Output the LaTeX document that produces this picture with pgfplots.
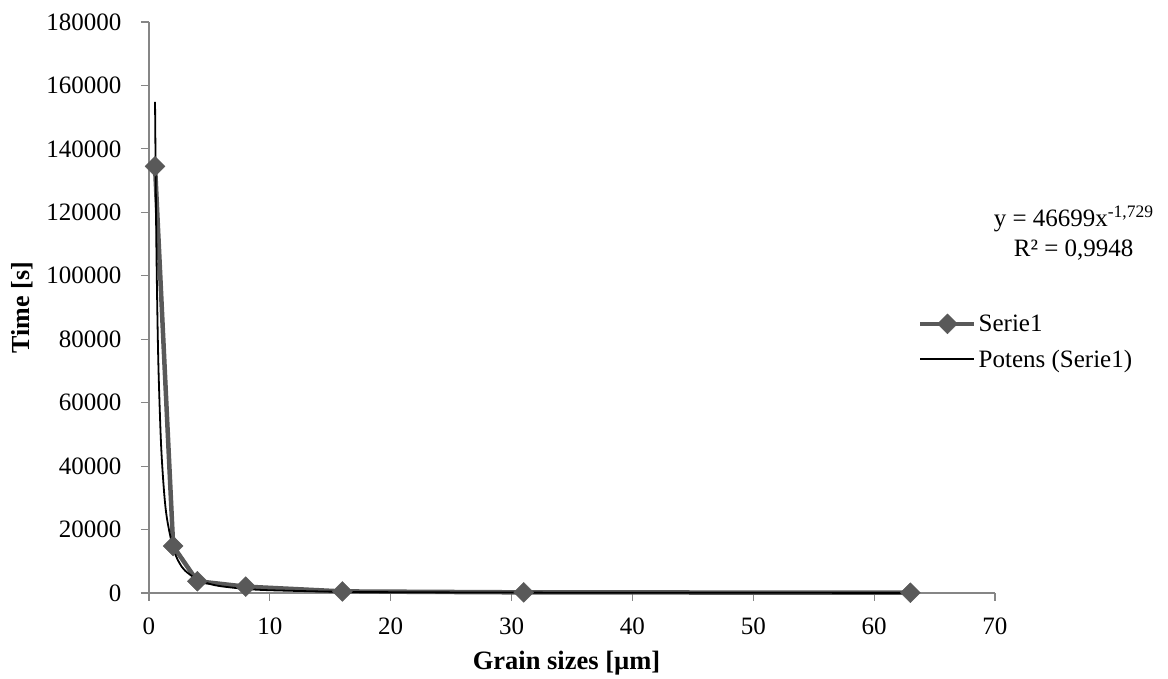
\documentclass[border=0pt]{standalone}
\usepackage{pgfplots}
\pgfplotsset{compat=1.18}
\usepackage{fontspec}
\setmainfont{Liberation Serif}
\definecolor{serie}{HTML}{595959}
\definecolor{axgray}{HTML}{868686}
\pgfplotsset{
  legA/.style={legend image code/.code={\draw[mark repeat=2,mark phase=2,##1] plot coordinates {(0pt,0pt) (27pt,0pt) (54pt,0pt)};}},
  legB/.style={legend image code/.code={\draw[##1] (0pt,0pt) -- (54pt,0pt);}},
}
\begin{document}
\begin{tikzpicture}
\begin{axis}[
  scale only axis, width=846pt, height=571pt,
  xmin=0, xmax=70, ymin=0, ymax=180000,
  xtick={0,10,...,70}, ytick={0,20000,...,180000},
  scaled ticks=false,
  /pgf/number format/fixed,
  /pgf/number format/1000 sep={},
  /pgf/number format/assume math mode=true,
  axis lines*=left,
  axis line style={axgray, line width=1.2pt},
  tick style={axgray, line width=1.2pt},
  tick align=outside, major tick length=8pt,
  every x tick/.style={axgray}, every y tick/.style={axgray},
  font=\fontsize{23.5}{28}\selectfont,
  ticklabel style={font=\fontsize{25}{30}\selectfont, black},
  xticklabel style={yshift=-13pt},
  yticklabel style={xshift=-16pt},
  xlabel={\textbf{Grain sizes [µm]}},
  ylabel={\textbf{Time [s]}},
  xlabel style={at={(axis description cs:0.4935,-0.1226)}, anchor=center, font=\fontsize{26.5}{32}\selectfont},
  ylabel style={at={(axis description cs:-0.150,0.5)}, anchor=center, font=\fontsize{26}{31}\selectfont},
  clip=false,
  legend style={draw=none, fill=none, at={(axis description cs:0.909,0.44)}, anchor=west,
    font=\fontsize{25}{30}\selectfont, row sep=13pt, inner xsep=0pt},
  legend cell align=left,
]
\addplot[serie, line width=4.5pt, mark=square*, mark size=7pt,
  mark options={rotate=45, solid, line width=0.5pt}, legA]
  coordinates {(0.5,134500) (2,14800) (4,3700) (8,2000) (16,500) (31,200) (63,100)};
\addlegendentry{Serie1}
\addplot[black, line width=1.8pt, smooth, no marks, legB]
  coordinates {(0.5,154800) (0.6,112950) (0.7,86520) (0.8,68685) (1,46699) (1.25,31751)
  (1.5,23167) (2,14088) (2.5,9578) (3,6990) (4,4250) (5,2889) (6,2108) (8,1282)
  (10,871) (15,432) (20,263) (30,130) (40,79) (63,36)};
\addlegendentry{Potens (Serie1)}
\node[align=center, font=\fontsize{25}{30}\selectfont] at (axis description cs:1.093,0.630)
  {y = 46699x\textsuperscript{-1,729}\\R² = 0,9948};
\coordinate (O) at (rel axis cs:0,0);
\end{axis}
\path (O) ++(-149pt,-84pt) rectangle ++(1168pt,677pt);
\end{tikzpicture}
\end{document}
